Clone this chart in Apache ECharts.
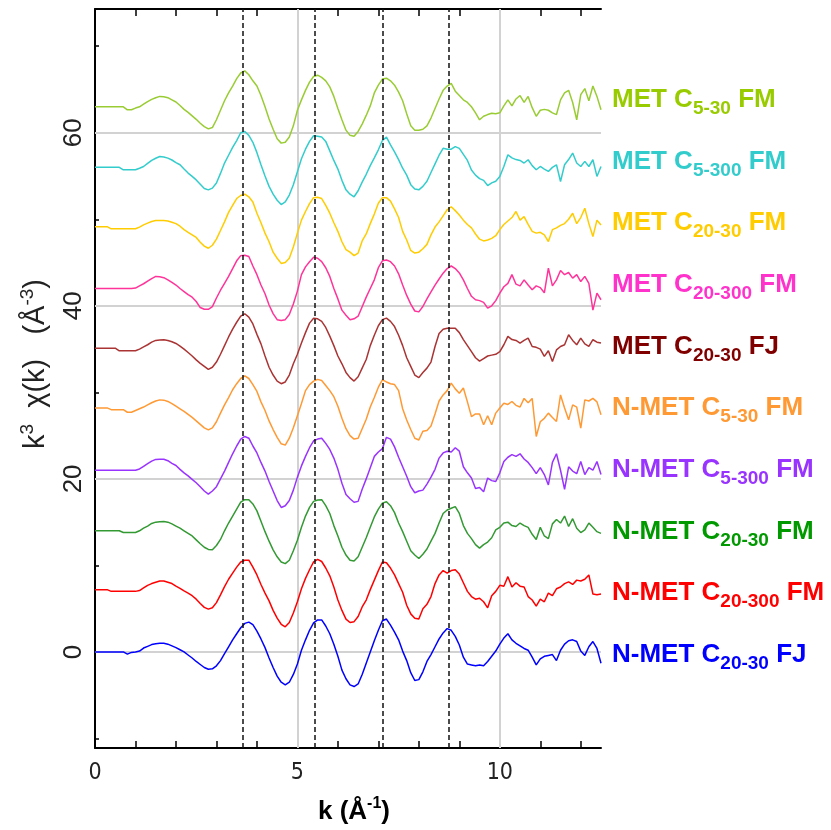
<!DOCTYPE html>
<html><head><meta charset="utf-8">
<script src="https://cdn.jsdelivr.net/npm/echarts@6/dist/echarts.min.js"></script>
<style>html,body{margin:0;padding:0;background:#fff}#c{width:831px;height:830px}</style>
</head><body><div id="c"></div><script>
// k grid (Å^-1)
const K = [
0,0.1,0.2,0.3,0.4,0.5,0.6,0.7,0.8,0.9,
1,1.1,1.2,1.3,1.4,1.5,1.6,1.7,1.8,1.9,
2,2.1,2.2,2.3,2.4,2.5,2.6,2.7,2.8,2.9,
3,3.1,3.2,3.3,3.4,3.5,3.6,3.7,3.8,3.9,
4,4.1,4.2,4.3,4.4,4.5,4.6,4.7,4.8,4.9,
5,5.1,5.2,5.3,5.4,5.5,5.6,5.7,5.8,5.9,
6,6.1,6.2,6.3,6.4,6.5,6.6,6.7,6.8,6.9,
7,7.1,7.2,7.3,7.4,7.5,7.6,7.7,7.8,7.9,
8,8.1,8.2,8.3,8.4,8.5,8.6,8.7,8.8,8.9,
9,9.1,9.2,9.3,9.4,9.5,9.6,9.7,9.8,9.9,
10,10.1,10.2,10.3,10.4,10.5,10.6,10.7,10.8,10.9,
11,11.1,11.2,11.3,11.4,11.5,11.6,11.7,11.8,11.9,
12,12.1,12.2,12.3,12.4,12.5];

// k^3 chi(k) of each sample, before the vertical offset
const N_MET_C20_30_FJ = [
0,0,0,0,0,0,0,0,-0.25,-0.05,
0,0.1,0.45,0.65,0.85,0.95,1.0,1.0,0.9,0.7,
0.5,0.25,0,-0.35,-0.7,-1.1,-1.45,-1.8,-2.0,-1.95,
-1.6,-1.0,-0.2,0.6,1.4,2.1,2.8,3.3,3.45,3.15,
2.4,1.5,0.5,-0.7,-1.8,-2.8,-3.5,-3.8,-3.5,-2.6,
-1.4,0.2,1.4,2.5,3.35,3.7,3.7,3.0,2.1,0.9,
-0.5,-2.1,-3.1,-3.8,-4.0,-3.7,-2.6,-1.3,0,1.3,
2.5,3.6,3.8,3.1,2.3,1.4,0.1,-1.0,-2.4,-3.3,
-3.2,-2.3,-1.1,-0.3,0.6,1.5,2.2,2.7,2.5,1.8,
0.8,-0.6,-1.4,-1.5,-1.6,-1.5,-1.6,-1.1,-0.5,0.1,
0.9,1.6,2.1,1.4,1.0,0.7,0.4,0.2,-0.6,-1.5,
-0.8,-0.5,-0.4,-0.3,-1.0,0.2,0.9,1.3,1.4,1.2,
0.1,-0.4,0.6,1.2,0.4,-1.3];
const N_MET_C20_300_FM = [
0.2,0.2,0.2,0.2,0,0,0,0,0,0,
0,0.1,0.4,0.7,0.9,1.05,1.2,1.2,1.05,0.9,
0.6,0.35,0.05,-0.2,-0.5,-0.9,-1.4,-1.85,-2.05,-1.9,
-1.3,-0.4,0.55,1.4,2.1,2.8,3.4,3.6,3.6,2.8,
1.9,0.8,-0.2,-1.1,-2.2,-3.1,-3.8,-4.1,-3.6,-2.5,
-1.2,0.3,1.5,2.5,3.4,3.7,3.45,2.7,1.8,0.5,
-1.0,-2.2,-3.2,-3.6,-3.5,-2.9,-1.8,-1.0,0.2,1.3,
2.4,3.4,3.3,2.7,1.9,0.9,-0.1,-1.6,-2.6,-3.1,
-3.2,-2.0,-1.5,-0.6,0.9,1.9,2.4,2.1,2.4,2.5,
2.0,1.0,0,-0.6,-0.9,-0.8,-1.2,-1.9,-0.5,0,
0.7,0.6,1.7,0.5,1.0,0.6,0.5,-0.6,-1.0,-1.7,
-0.9,-1.2,-0.2,-0.5,0.3,0.5,0.9,1.1,0.8,1.3,
1.2,1.4,1.9,-0.3,-0.4,-0.3];
const N_MET_C20_30_FM = [
0,0,0,0,0,0,0,-0.2,-0.2,-0.2,
-0.2,0,0.3,0.55,0.85,1.0,1.05,1.07,1.0,0.8,
0.55,0.3,0,-0.3,-0.6,-1.05,-1.5,-1.9,-2.15,-2.2,
-1.7,-1.0,0,0.9,1.7,2.5,3.3,3.6,3.6,3.1,
2.3,1.1,-0.1,-1.2,-2.2,-3.0,-3.6,-3.8,-3.4,-2.3,
-1.1,0.4,1.7,2.7,3.4,3.55,3.6,2.9,2.0,0.6,
-0.6,-1.9,-2.8,-3.4,-3.5,-3.0,-1.9,-0.8,0.4,1.6,
2.5,3.2,3.35,2.9,2.1,0.9,-0.1,-1.2,-2.3,-2.8,
-3.2,-2.7,-2.1,-1.2,-0.3,0.9,2.0,2.4,2.6,2.8,
2.0,0.6,-0.3,-0.9,-1.6,-2.0,-1.6,-1.3,-0.8,0.1,
0.4,0.9,1.0,0.6,0.5,0.9,0.6,0.4,-0.4,-1.0,
0.4,-0.6,-0.9,0.8,1.3,0.9,1.7,0.5,1.4,0.3,
-0.2,0.1,0.9,0.4,-0.1,-0.3];
const N_MET_C5_300_FM = [
0,0,0,0,0,0,0,0,0,0,
0,0.15,0.45,0.75,1.05,1.25,1.27,1.27,1.1,0.8,
0.55,0.1,-0.3,-0.65,-1.05,-1.45,-1.9,-2.4,-2.77,-2.4,
-1.9,-1.0,-0.1,0.9,1.9,2.8,3.6,3.9,3.7,2.8,
2.0,0.9,-0.1,-1.3,-2.4,-3.5,-4.3,-4.1,-3.5,-2.3,
-0.8,0.5,1.6,2.6,3.4,3.6,3.7,3.1,2.4,1.4,
0.1,-1.5,-2.8,-3.3,-3.7,-3.6,-2.2,-1.0,0.3,1.6,
2.1,2.5,3.8,3.6,2.7,1.5,0.4,-0.7,-1.9,-2.6,
-2.4,-2.3,-1.6,-0.8,0.1,1.4,2.0,2.2,2.1,2.6,
2.2,0.4,-0.3,-0.9,-2.1,-2.0,-2.5,-0.9,-1.2,-1.3,
-0.3,1.0,1.5,1.8,1.6,1.9,1.3,0.9,0.3,-0.4,
0.3,-0.5,-1.7,0.9,1.9,0,-2.2,0.4,-0.1,-0.4,
1.0,-0.5,0.3,0,1.0,-0.5];
const N_MET_C5_30_FM = [
0.2,0.2,0.2,0.2,0,0,0,0,-0.3,-0.3,
-0.1,0.1,0.3,0.55,0.8,1.0,1.13,1.1,0.95,0.7,
0.4,0.1,-0.2,-0.55,-0.9,-1.3,-1.7,-2.1,-2.33,-2.1,
-1.4,-0.4,0.55,1.4,2.3,3.0,3.6,3.9,3.6,2.9,
2.1,0.9,-0.1,-1.3,-2.3,-3.2,-3.95,-4.1,-3.3,-2.1,
-0.7,0.7,2.2,2.9,3.3,3.5,3.37,2.8,2.2,1.5,
0.4,-1.0,-2.2,-3.0,-3.4,-3.3,-2.2,-1.1,0.3,1.4,
2.6,3.45,3.2,3.0,2.9,2.2,0.1,-1.2,-2.3,-3.3,
-3.5,-2.5,-2.4,-1.9,-0.5,1.0,1.7,2.2,3.06,2.4,
1.9,2.5,0.9,-0.8,-0.5,-0.5,-1.75,-0.7,-1.75,-0.4,
0.2,0.75,0.6,0.94,0.5,0.3,1.3,0.8,1.3,-3.1,
-1.4,-1.0,-0.4,-0.9,-1.37,1.7,0.2,-1.18,0.55,0.3,
-2.14,1.13,1.0,1.3,0.9,-0.6];
const MET_C20_30_FJ = [
0.1,0.1,0.1,0.1,0.1,0.1,-0.2,-0.2,-0.2,-0.2,
-0.2,0,0.25,0.5,0.8,1.0,1.05,1.08,1.0,0.85,
0.65,0.35,0,-0.4,-0.8,-1.25,-1.65,-2.0,-2.35,-2.1,
-1.5,-0.6,0.4,1.4,2.3,3.1,3.8,4.08,3.7,2.9,
1.7,0.6,-0.8,-2.1,-3.0,-3.7,-4.0,-3.8,-3.0,-1.7,
-0.6,0.7,1.9,3.0,3.55,3.5,3.2,2.5,1.5,0.4,
-0.8,-1.7,-2.7,-3.3,-3.7,-3.2,-2.2,-1.2,0.4,1.6,
2.7,3.4,3.58,3.2,2.6,1.6,0.4,-1.0,-2.0,-3.0,
-3.3,-2.7,-2.2,-1.5,0.3,1.8,2.3,2.4,2.4,2.4,
1.9,1.1,0.4,-0.3,-1.0,-1.4,-1.1,-0.8,-0.7,-0.6,
-0.3,0.5,1.46,1.1,1.0,0.7,1.0,1.27,0.3,0.2,
0,-0.85,-0.2,-1.43,-0.1,0.3,0.5,1.65,1.0,0.5,
1.27,0.6,0.3,1.08,0.8,0.7];
const MET_C20_300_FM = [
0,0,0,0,0,0,0,0,0,0,
0.05,0.3,0.55,0.85,1.15,1.4,1.35,1.25,1.0,0.7,
0.4,0,-0.35,-0.7,-1.0,-1.5,-2.2,-2.4,-2.4,-2.1,
-1.1,-0.2,0.6,1.4,2.3,3.2,3.8,3.85,3.7,2.6,
1.6,0.4,-0.6,-1.9,-2.9,-3.6,-3.7,-3.6,-3.0,-1.8,
-0.3,1.6,2.5,3.1,3.6,3.5,3.1,2.4,1.4,0,
-1.2,-2.5,-3.1,-3.6,-3.5,-3.2,-2.1,-1.0,0,1.0,
2.4,3.2,3.3,3.1,2.6,1.7,0.4,-0.8,-1.8,-2.6,
-2.7,-2.08,-1.2,-0.4,0.4,1.1,1.77,2.3,2.6,2.3,
1.8,1.0,0,-0.9,-1.3,-1.4,-1.6,-2.27,-2.0,-1.4,
-0.54,0.2,0.6,1.6,0.5,0.3,1.0,0.4,-0.15,0.3,
0.1,-0.5,2.35,0.3,1.0,2.08,1.6,1.85,1.2,1.6,
0.8,1.4,0.6,-2.5,-0.54,-1.3];
const MET_C20_30_FM = [
0.15,0.15,0.15,0.15,-0.1,-0.1,-0.1,-0.1,-0.1,-0.1,
-0.1,0.1,0.35,0.55,0.75,0.85,0.85,0.85,0.8,0.65,
0.5,0.2,-0.2,-0.5,-0.8,-1.1,-1.65,-2.1,-2.35,-2.0,
-1.3,-0.3,0.7,1.8,2.6,3.4,3.75,3.9,3.6,3.0,
1.7,0.6,-0.6,-1.6,-2.8,-3.5,-4.1,-4.0,-3.5,-2.2,
-0.6,0.9,1.9,2.8,3.5,3.55,3.4,2.6,1.7,0.6,
-0.4,-1.6,-2.5,-2.8,-3.2,-2.9,-1.5,-0.7,0.5,1.6,
2.85,3.5,3.5,3.1,2.2,1.2,-0.4,-1.4,-2.6,-2.9,
-2.8,-2.4,-1.9,-0.8,0.1,0.7,1.4,2.1,2.45,2.0,
1.5,0.9,0.4,0,-0.7,-1.3,-1.5,-1.4,-1.2,-0.9,
-0.2,0.4,0.8,1.2,1.9,0.9,1.3,0.4,-0.4,-0.6,
-0.5,-0.8,-1.58,-0.2,0,0.3,0.5,1.0,1.7,0.5,
1.2,2.27,0.5,-1.0,0.9,0.35];
const MET_C5_300_FM = [
0,0,0,0,0,0,0,-0.28,-0.28,-0.28,
-0.28,-0.1,0.1,0.45,0.8,1.05,1.25,1.2,1.07,0.85,
0.55,0.3,-0.2,-0.66,-1.05,-1.45,-1.95,-2.45,-2.6,-2.4,
-1.8,-0.7,0.5,1.4,2.3,3.1,4.0,4.15,3.7,2.9,
1.7,0.3,-1.0,-2.2,-3.1,-3.8,-4.3,-4.0,-3.2,-2.0,
-0.5,1.0,2.1,3.0,3.65,3.6,3.5,3.0,1.9,0.8,
-0.2,-1.5,-2.6,-3.1,-3.4,-2.7,-1.7,-0.8,0.2,1.1,
2.03,3.1,3.5,2.6,1.8,0.9,-0.1,-0.9,-2.0,-2.5,
-2.6,-2.2,-1.6,-0.6,0.4,1.4,2.2,2.1,2.1,2.4,
2.2,1.5,0.8,-0.3,-0.9,-1.3,-1.5,-2.1,-1.8,-1.6,
-1.05,0.1,1.45,1.1,0.9,0.8,0.5,0.88,0.2,-0.28,
0.1,-0.2,-0.47,0,0.3,-1.63,0.3,0.9,1.65,0.5,
0.1,0.69,0.1,0.88,-1.05,0.1];
const MET_C5_30_FM = [
0,0,0,0,0,0,0,0,-0.35,-0.35,
-0.15,0,0.3,0.6,0.85,1.05,1.2,1.15,1.05,0.8,
0.55,0.15,-0.3,-0.65,-1.05,-1.45,-1.9,-2.3,-2.55,-2.4,
-1.5,-0.4,0.7,1.6,2.4,3.25,3.9,4.15,3.7,3.0,
2.4,1.3,0,-1.4,-2.6,-3.7,-4.2,-4.1,-3.5,-2.2,
-0.4,0.8,1.9,2.85,3.5,3.65,3.4,3.0,2.3,1.2,
-0.2,-1.5,-2.7,-3.3,-3.4,-2.85,-2.0,-1.0,0.1,1.6,
2.5,3.2,3.3,3.0,2.5,1.7,0.7,-0.8,-2.2,-2.7,
-2.7,-2.6,-2.2,-1.3,-0.2,0.9,1.9,2.4,2.7,1.8,
1.3,0.8,0.5,0,-0.7,-1.5,-1.1,-0.9,-0.75,-0.8,
-0.7,0.1,0.8,0.1,0.9,1.3,0.5,1.2,-0.1,-1.1,
-0.4,-0.3,-0.4,-0.7,-0.9,0.8,1.6,1.9,0.5,-1.5,
1.4,2.1,0.7,2.4,1.2,-0.35];

// bottom to top
const SERIES_VALUES = [N_MET_C20_30_FJ, N_MET_C20_300_FM, N_MET_C20_30_FM, N_MET_C5_300_FM, N_MET_C5_30_FM,
  MET_C20_30_FJ, MET_C20_300_FM, MET_C20_30_FM, MET_C5_300_FM, MET_C5_30_FM];
const OFFSETS = [0, 7, 14, 21, 28, 35, 42, 49, 56, 63];
const LABEL_MAIN = ['N-MET C','N-MET C','N-MET C','N-MET C','N-MET C','MET C','MET C','MET C','MET C','MET C'];
const LABEL_SUB = ['20-30','20-300','20-30','5-300','5-30','20-30','20-300','20-30','5-300','5-30'];
const LABEL_TAIL = [' FJ',' FM',' FM',' FM',' FM',' FJ',' FM',' FM',' FM',' FM'];
const LINE_COLORS = ['#0000ff','#ff0000','#339933','#9933ff','#ff9933','#aa3333','#ff3399','#ffcc00','#33cccc','#99cc33'];
const TEXT_COLORS = ['#0000ff','#ff0000','#009900','#9933ff','#ff9933','#800000','#ff33cc','#ffcc00','#33cccc','#99cc00'];
const LABEL_Y = [655, 593, 532, 470, 408, 347, 285, 223, 162, 100];

const X_TICKS_MINOR = [0,1,2,3,4,5,6,7,8,9,10,11,12];
const X_TICKS_MAJOR = [0,5,10];
const Y_TICKS_MINOR = [-10,0,10,20,30,40,50,60,70];
const Y_TICKS_MAJOR = [0,20,40,60];
const DASHED_K = [3.65, 5.43, 7.12, 8.73];
const GRID_X = [5, 10];
const GRID_Y = [0, 20, 40, 60];

const narrowFont = "'Liberation Sans Narrow','DejaVu Sans Condensed','Liberation Sans',sans-serif";
const plainFont = "'Liberation Sans',Arial,sans-serif";
const chart = echarts.init(document.getElementById('c'), null, {renderer: 'canvas'});

const grid = {left: 95, right: 230, top: 9, bottom: 82, containLabel: false};
const xBase = {type: 'value', min: 0, max: 12.5, splitLine: {show: false}};
const yBase = {type: 'value', min: -11.1, max: 74.3, splitLine: {show: false}};

const series = SERIES_VALUES.map((vals, i) => ({
  type: 'line', name: LABEL_MAIN[i] + LABEL_SUB[i] + LABEL_TAIL[i],
  data: K.map((k, j) => [k, vals[j] + OFFSETS[i]]),
  symbol: 'none', showSymbol: false, animation: false, z: 3,
  lineStyle: {color: LINE_COLORS[i], width: 1.5}
}));
series.push({
  type: 'line', data: [], z: 1, animation: false, silent: true,
  markLine: {z: 1, symbol: 'none', silent: true, animation: false, label: {show: false},
    lineStyle: {color: '#d2d2d2', width: 2, type: 'solid'},
    data: GRID_X.map(v => ({xAxis: v})).concat(GRID_Y.map(v => ({yAxis: v})))}
});
series.push({
  type: 'line', data: [], z: 6, animation: false, silent: true,
  markLine: {z: 6, symbol: 'none', silent: true, animation: false, label: {show: false},
    lineStyle: {color: '#111', width: 1.5, type: [5, 3]},
    data: DASHED_K.map(v => ({xAxis: v}))}
});

const graphics = SERIES_VALUES.map((_, i) => ({
  type: 'text', x: 612, y: LABEL_Y[i], z: 10,
  style: {
    text: '{m|' + LABEL_MAIN[i] + '}{s|' + LABEL_SUB[i] + '}{m|' + LABEL_TAIL[i] + '}',
    fill: TEXT_COLORS[i], align: 'left', verticalAlign: 'middle',
    textAlign: 'left', textVerticalAlign: 'middle',
    rich: {
      m: {fontSize: 26, fontWeight: 'bold', fontFamily: plainFont, fill: TEXT_COLORS[i], lineHeight: 30},
      s: {fontSize: 19, fontWeight: 'bold', fontFamily: plainFont, fill: TEXT_COLORS[i], lineHeight: 30, padding: [18, 0, 0, 0]}
    }
  }
}));
graphics.push({
  type: 'text', x: 354, y: 812, z: 10,
  style: {
    text: '{m|k (Å}{p|-1}{m|)}', fill: '#000', align: 'center', verticalAlign: 'middle',
    textAlign: 'center', textVerticalAlign: 'middle',
    rich: {
      m: {fontSize: 26, fontWeight: 'bold', fontFamily: plainFont, fill: '#000', lineHeight: 30},
      p: {fontSize: 16, fontWeight: 'bold', fontFamily: plainFont, fill: '#000', lineHeight: 30, padding: [0, 0, 16, 0]}
    }
  }
});
graphics.push({
  type: 'text', x: 36, y: 364, rotation: Math.PI / 2, z: 10,
  style: {
    text: '{m|k}{p|3}{m|  χ(k)   (Å}{p|-3}{m|)}', fill: '#222', align: 'center', verticalAlign: 'middle',
    textAlign: 'center', textVerticalAlign: 'middle',
    rich: {
      m: {fontSize: 29, fontFamily: plainFont, fill: '#222', lineHeight: 32},
      p: {fontSize: 19, fontFamily: plainFont, fill: '#222', lineHeight: 32, padding: [0, 0, 16, 0]}
    }
  }
});

chart.setOption({
  animation: false,
  backgroundColor: '#fff',
  grid: grid,
  xAxis: [
    Object.assign({}, xBase, {position: 'bottom',
      axisLine: {show: true, onZero: false, lineStyle: {color: '#000', width: 2}},
      axisTick: {show: true, inside: true, length: 7, customValues: X_TICKS_MINOR, lineStyle: {color: '#000', width: 1.5}},
      axisLabel: {show: true, customValues: X_TICKS_MAJOR, margin: 14, fontSize: 23, fontFamily: narrowFont, color: '#222'}}),
    Object.assign({}, xBase, {position: 'bottom',
      axisLine: {show: false, onZero: false},
      axisTick: {show: true, inside: true, length: 13, customValues: X_TICKS_MAJOR, lineStyle: {color: '#000', width: 1.5}},
      axisLabel: {show: false}}),
    Object.assign({}, xBase, {position: 'top',
      axisLine: {show: true, onZero: false, lineStyle: {color: '#000', width: 2}},
      axisTick: {show: true, inside: true, length: 7, customValues: X_TICKS_MINOR, lineStyle: {color: '#000', width: 1.5}},
      axisLabel: {show: false}}),
    Object.assign({}, xBase, {position: 'top',
      axisLine: {show: false, onZero: false},
      axisTick: {show: true, inside: true, length: 13, customValues: X_TICKS_MAJOR, lineStyle: {color: '#000', width: 1.5}},
      axisLabel: {show: false}})
  ],
  yAxis: [
    Object.assign({}, yBase, {position: 'left',
      axisLine: {show: true, onZero: false, lineStyle: {color: '#000', width: 2}},
      axisTick: {show: true, inside: true, length: 4, customValues: Y_TICKS_MINOR, lineStyle: {color: '#000', width: 1.5}},
      axisLabel: {show: true, customValues: Y_TICKS_MAJOR, rotate: 90, margin: 8, fontSize: 26, fontFamily: plainFont, color: '#222'}}),
    Object.assign({}, yBase, {position: 'left',
      axisLine: {show: false, onZero: false},
      axisTick: {show: true, inside: true, length: 9, customValues: Y_TICKS_MAJOR, lineStyle: {color: '#000', width: 1.5}},
      axisLabel: {show: false}})
  ],
  series: series,
  graphic: graphics
});
</script></body></html>
